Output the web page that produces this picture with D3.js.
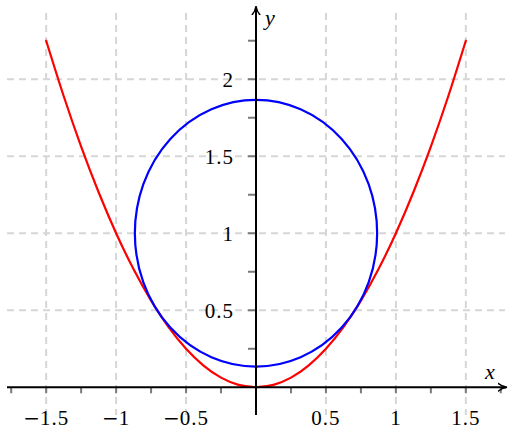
<!DOCTYPE html>
<html><head><meta charset="utf-8">
<script src="https://cdn.jsdelivr.net/npm/d3@7"></script>
<style>html,body{margin:0;padding:0;background:#fff;}svg{display:block;}</style>
</head><body>
<svg id="chart" width="512" height="440"></svg>
<script>
// ---- data ----
const leftX  = [-1.5,-1.375,-1.25,-1.125,-1,-0.875,-0.75,-0.625,-0.5,-0.375,-0.25,-0.125,0];
const leftY  = [2.25,1.891,1.5625,1.266,1,0.766,0.5625,0.391,0.25,0.141,0.0625,0.0156,0];
const rightX = [0,0.125,0.25,0.375,0.5,0.625,0.75,0.875,1,1.125,1.25,1.375,1.5];
const rightY = [0,0.0156,0.0625,0.141,0.25,0.391,0.5625,0.766,1,1.266,1.5625,1.891,2.25];
const circleCenter = [0, 1];
const circleRadius = 0.866;
const xMajorTicks = [-1.5,-1,-0.5,0.5,1,1.5];
const xTickLabels = ["-1.5","-1","-0.5","0.5","1","1.5"];
const xMinorTicks = [-1.75,-1.25,-0.75,-0.25,0.25,0.75,1.25,1.75];
const yMajorTicks = [0.5,1,1.5,2];
const yTickLabels = ["0.5","1","1.5","2"];
const yMinorTicks = [0.25,0.75,1.25,1.75,2.25];
const xDomain = [-1.78, 1.78];
const yDomain = [-0.18, 2.43];

// ---- scales ----
const svg = d3.select("#chart");
const x = d3.scaleLinear().domain(xDomain).range([7, 505]);
const y = d3.scaleLinear().domain(yDomain).range([415, 13]);
const font = "'Liberation Serif','Times New Roman',serif";

// grid
const gridColor = "#d6d6d6";
svg.append("g").selectAll("line").data(xMajorTicks).join("line")
  .attr("x1", d => x(d)).attr("x2", d => x(d))
  .attr("y1", y(yDomain[1])).attr("y2", y(yDomain[0]))
  .attr("stroke", gridColor).attr("stroke-width", 2).attr("stroke-dasharray", "7,5");
svg.append("g").selectAll("line").data(yMajorTicks).join("line")
  .attr("y1", d => y(d)).attr("y2", d => y(d))
  .attr("x1", x(xDomain[0])).attr("x2", x(xDomain[1]))
  .attr("stroke", gridColor).attr("stroke-width", 2).attr("stroke-dasharray", "7,5");

// ticks
const tickColor = "#7a7a7a";
svg.append("g").selectAll("line").data(xMajorTicks.concat(xMinorTicks)).join("line")
  .attr("x1", d => x(d)).attr("x2", d => x(d))
  .attr("y1", y(0)).attr("y2", y(0) + 6)
  .attr("stroke", tickColor).attr("stroke-width", 2);
svg.append("g").selectAll("line").data(yMajorTicks.concat(yMinorTicks)).join("line")
  .attr("y1", d => y(d)).attr("y2", d => y(d))
  .attr("x1", x(0) - 8).attr("x2", x(0))
  .attr("stroke", tickColor).attr("stroke-width", 2);

// curves
const line = d3.line().x(d => x(d[0])).y(d => y(d[1])).curve(d3.curveCardinal.tension(0.2));
[[leftX, leftY], [rightX, rightY]].forEach(([xs, ys]) => {
  svg.append("path").datum(xs.map((v, i) => [v, ys[i]]))
    .attr("d", line).attr("fill", "none").attr("stroke", "#ff0000")
    .attr("stroke-width", 2.2).attr("stroke-linejoin", "round").attr("stroke-linecap", "round");
});
svg.append("ellipse")
  .attr("cx", x(circleCenter[0])).attr("cy", y(circleCenter[1]))
  .attr("rx", x(circleCenter[0] + circleRadius) - x(circleCenter[0]))
  .attr("ry", y(circleCenter[1] - circleRadius) - y(circleCenter[1]))
  .attr("fill", "none").attr("stroke", "#0000ff").attr("stroke-width", 2.2);

// axes with arrows
const defs = svg.append("defs");
defs.append("marker").attr("id", "arr").attr("viewBox", "0 0 10 10")
  .attr("refX", 8).attr("refY", 5).attr("markerWidth", 10).attr("markerHeight", 10)
  .attr("markerUnits", "userSpaceOnUse").attr("orient", "auto")
  .append("path").attr("d", "M0,1 Q4,4.2 9,5 Q4,5.8 0,9").attr("fill", "none")
  .attr("stroke", "#000").attr("stroke-width", 1.4).attr("stroke-linecap", "round");
svg.append("line").attr("x1", x(xDomain[0])).attr("x2", x(xDomain[1]) + 1)
  .attr("y1", y(0)).attr("y2", y(0)).attr("stroke", "#000").attr("stroke-width", 2)
  .attr("marker-end", "url(#arr)");
svg.append("line").attr("x1", x(0)).attr("x2", x(0))
  .attr("y1", y(yDomain[0])).attr("y2", y(yDomain[1]) - 6).attr("stroke", "#000").attr("stroke-width", 2)
  .attr("marker-end", "url(#arr)");

// tick labels (math-style minus: wider glyph)
function writeLabel(sel, s) {
  if (s.startsWith("-")) {
    sel.append("tspan").attr("font-family", "'DejaVu Sans',sans-serif").attr("font-size", 20)
      .attr("letter-spacing", 0).text("\u2212");
    sel.append("tspan").attr("dx", 0).text(s.slice(1));
  } else {
    sel.text(s);
  }
}
svg.append("g").selectAll("text").data(xMajorTicks).join("text")
  .attr("x", d => x(d)).attr("y", y(0) + 38)
  .attr("text-anchor", "middle").attr("font-family", font).attr("font-size", 21)
  .attr("letter-spacing", 1)
  .each(function(d, i) { writeLabel(d3.select(this), xTickLabels[i]); });
svg.append("g").selectAll("text").data(yMajorTicks).join("text")
  .attr("x", x(0) - 22).attr("y", d => y(d) + 8)
  .attr("text-anchor", "end").attr("font-family", font).attr("font-size", 21)
  .attr("letter-spacing", 1)
  .each(function(d, i) { writeLabel(d3.select(this), yTickLabels[i]); });

// axis labels
svg.append("text").attr("x", 490).attr("y", y(0) - 8).attr("text-anchor", "middle")
  .attr("font-family", font).attr("font-style", "italic").attr("font-size", 22).text("x");
svg.append("text").attr("x", 270).attr("y", 25).attr("text-anchor", "middle")
  .attr("font-family", font).attr("font-style", "italic").attr("font-size", 22).text("y");
</script>
</body></html>
